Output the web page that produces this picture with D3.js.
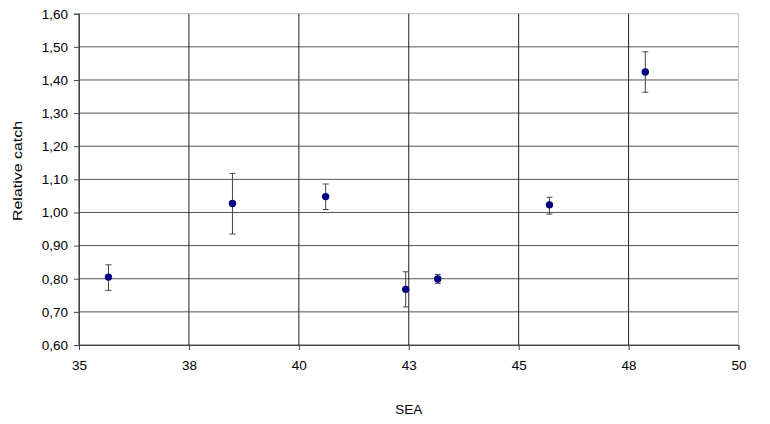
<!DOCTYPE html>
<html><head><meta charset="utf-8">
<script src="https://cdn.jsdelivr.net/npm/d3@7"></script>
<style>body{margin:0;background:#fff}svg{display:block;font-family:"Liberation Sans",Arial,sans-serif}</style>
</head><body>
<svg id="c" width="770" height="424"></svg>
<script>
// data
const sea =     [35.67, 38.49, 40.61, 42.43, 43.16, 45.70, 47.88];
const catchV =  [0.805, 1.027, 1.048, 0.768, 0.799, 1.023, 1.424];
const errLow =  [0.765, 0.935, 1.009, 0.715, 0.786, 0.995, 1.363];
const errHigh = [0.842, 1.118, 1.086, 0.821, 0.813, 1.046, 1.485];
const xTicks = [35, 37.5, 40, 42.5, 45, 47.5, 50];
const yTicks = [0.6,0.7,0.8,0.9,1.0,1.1,1.2,1.3,1.4,1.5,1.6];

const svg = d3.select("#c");
const L=79, R=738.5, T=13.7, B=345;
const x = d3.scaleLinear().domain([35,50]).range([L,R]);
const y = d3.scaleLinear().domain([0.6,1.6]).range([B,T]);

// horizontal gridlines
svg.append("g").selectAll("line").data(yTicks).join("line")
  .attr("x1",L).attr("x2",R).attr("y1",d=>y(d)).attr("y2",d=>y(d))
  .attr("stroke",(d,i)=> i===yTicks.length-1 ? "#c0c0c0" : "#555").attr("stroke-width",1);
// vertical gridlines
svg.append("g").selectAll("line").data(xTicks).join("line")
  .attr("y1",T).attr("y2",B).attr("x1",d=>x(d)).attr("x2",d=>x(d))
  .attr("stroke",(d,i)=> i===xTicks.length-1 ? "#c0c0c0" : "#222").attr("stroke-width",1);

// axes
const fmtY = d => d3.format(".2f")(d).replace(".", ",");
const yAxis = d3.axisLeft(y).tickValues(yTicks).tickFormat(fmtY).tickSize(5).tickPadding(6);
const gy = svg.append("g").attr("transform",`translate(${L},0)`).call(yAxis);
const xAxis = d3.axisBottom(x).tickValues(xTicks).tickFormat(d=>String(Math.floor(d+0.5))).tickSize(5).tickPadding(10);
const gx = svg.append("g").attr("transform",`translate(0,${B})`).call(xAxis);
[gy,gx].forEach(g=>{
  g.select(".domain").attr("stroke","#444");
  g.selectAll(".tick line").attr("stroke","#444");
  g.selectAll("text").attr("font-size",13.5).attr("fill","#000").attr("font-family","Liberation Sans, Arial, sans-serif");
});

// error bars
const data = sea.map((s,i)=>({s, v:catchV[i], lo:errLow[i], hi:errHigh[i]}));
const eb = svg.append("g").attr("stroke","#444").attr("stroke-width",1);
eb.selectAll("line.v").data(data).join("line").attr("class","v")
  .attr("x1",d=>x(d.s)).attr("x2",d=>x(d.s)).attr("y1",d=>y(d.lo)).attr("y2",d=>y(d.hi));
eb.selectAll("line.t").data(data).join("line").attr("class","t")
  .attr("x1",d=>x(d.s)-3).attr("x2",d=>x(d.s)+3).attr("y1",d=>y(d.hi)).attr("y2",d=>y(d.hi));
eb.selectAll("line.b").data(data).join("line").attr("class","b")
  .attr("x1",d=>x(d.s)-3).attr("x2",d=>x(d.s)+3).attr("y1",d=>y(d.lo)).attr("y2",d=>y(d.lo));

// points
svg.append("g").selectAll("circle").data(data).join("circle")
  .attr("cx",d=>x(d.s)).attr("cy",d=>y(d.v)).attr("r",3.7).attr("fill","#000080");

// titles
svg.append("text").attr("x",(L+R)/2).attr("y",414).attr("text-anchor","middle")
  .attr("font-size",13.5).text("SEA");
svg.append("text").attr("transform","translate(22,171) rotate(-90)").attr("text-anchor","middle")
  .attr("font-size",13.5).attr("textLength",100).attr("lengthAdjust","spacingAndGlyphs").text("Relative catch");
</script>
</body></html>
